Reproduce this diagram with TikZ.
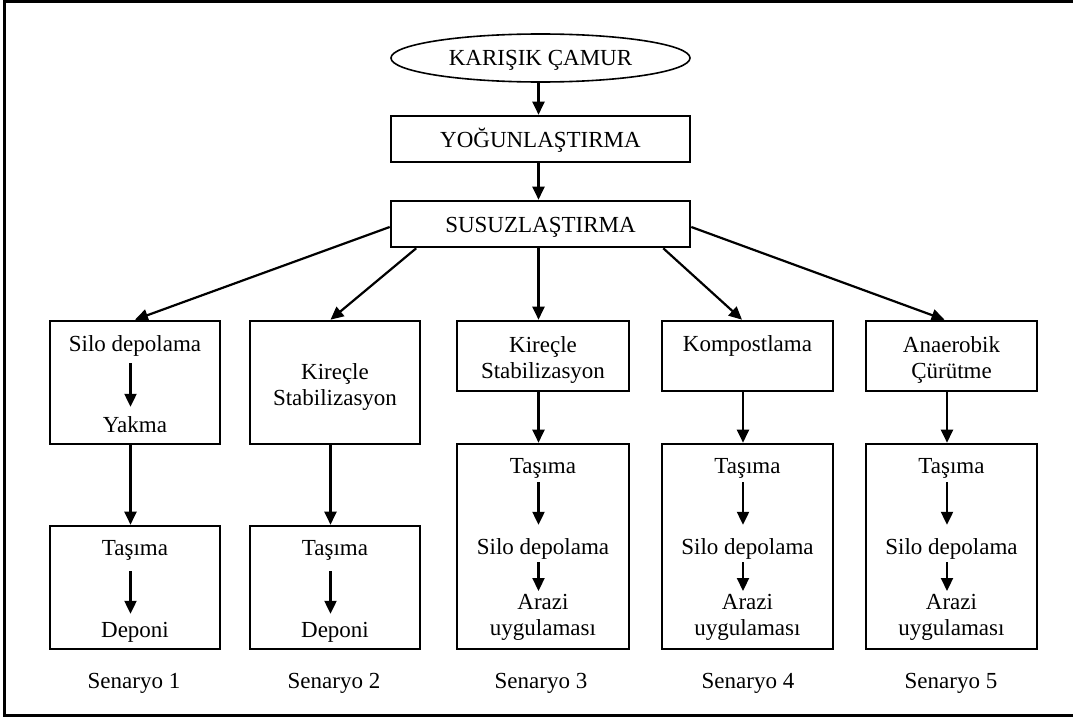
\documentclass[tikz,border=0pt]{standalone}
\usepackage{fontspec}
\setmainfont{Liberation Serif}
\usetikzlibrary{arrows.meta,shapes.geometric}

\begin{document}
\begin{tikzpicture}[x=1pt,y=-1pt,
  every node/.style={font=\fontsize{23}{26.5}\selectfont},
  box/.style={draw,line width=2.6pt,rectangle,minimum width=170pt,inner sep=0pt},
  wide/.style={box,minimum width=299pt,minimum height=46pt,text height=16pt,text depth=0pt},
  lbl/.style={inner sep=0pt,text height=16pt,text depth=5pt,anchor=base},
  lbltwo/.style={inner sep=0pt,align=center,anchor=north},
  arr/.style={line width=2.2pt,-{Triangle[length=13pt,width=12pt]}},
]
\useasboundingbox (0,0) rectangle (1073,717);
\begin{scope}
  \clip (0,0) rectangle (1073,717);
  \draw[line width=3pt] (4.5,1.5) rectangle (1090,715.5);
\end{scope}

% main chain
\node[draw,ellipse,line width=1.6pt,minimum width=299pt,minimum height=48pt,inner sep=0pt,
      text height=16pt,text depth=0pt]
  (mix) at (540.5,58) {KARIŞIK ÇAMUR};
\node[wide] (yog) at (540.5,139) {YOĞUNLAŞTIRMA};
\node[wide] (sus) at (540.5,224) {SUSUZLAŞTIRMA};
\draw[arr] ([xshift=-2pt]mix.south) -- ([xshift=-2pt]yog.north);
\draw[arr] ([xshift=-2pt]yog.south) -- ([xshift=-2pt]sus.north);

% first-stage boxes
\node[box,minimum height=123pt] (s1a) at (135,382.5) {};
\node[box,minimum height=123pt] (s2a) at (335,382.5) {};
\node[box,minimum width=172pt,minimum height=70pt] (s3a) at (543,356) {};
\node[box,minimum width=171pt,minimum height=70pt] (s4a) at (747.5,356) {};
\node[box,minimum width=171pt,minimum height=70pt] (s5a) at (951.5,356) {};

% second-stage boxes
\node[box,minimum height=123pt] (s1b) at (135,587.5) {};
\node[box,minimum height=123pt] (s2b) at (335,587.5) {};
\node[box,minimum width=172pt,minimum height=205pt] (s3b) at (543,546.5) {};
\node[box,minimum width=171pt,minimum height=205pt] (s4b) at (747.5,546.5) {};
\node[box,minimum width=171pt,minimum height=205pt] (s5b) at (951.5,546.5) {};

% branches out of dewatering
\draw[arr] ([yshift=-3pt]sus.west) -- (s1a.north);
\draw[arr] ([xshift=26.5pt]sus.south west) -- ([xshift=-4.5pt]s2a.north);
\draw[arr] ([xshift=-2pt]sus.south) -- ([xshift=-4.5pt]s3a.north);
\draw[arr] ([xshift=-28pt]sus.south east) -- ([xshift=-5.5pt]s4a.north);
\draw[arr] ([yshift=-3pt]sus.east) -- ([xshift=-7pt]s5a.north);

% links between stages
\foreach \s in {1,...,5}{
  \draw[arr] ([xshift=-4.5pt]s\s a.south) -- ([xshift=-4.5pt]s\s b.north);
}

% scenario 1
\node[lbl] (a1) at (135,351.5) {Silo depolama};
\node[lbl] (a2) at (135,432.5) {Yakma};
\draw[arr,shorten <=6.5pt,shorten >=9.5pt] ([xshift=-4.5pt]a1.south) -- ([xshift=-4.5pt]a2.north);
\node[lbl] (a3) at (135,555.5) {Taşıma};
\node[lbl] (a4) at (135,637.5) {Deponi};
\draw[arr,shorten <=10.5pt,shorten >=7.5pt] ([xshift=-4.5pt]a3.south) -- ([xshift=-4.5pt]a4.north);

% scenario 2
\node[lbltwo] (b1) at (335,363) {Kireçle\\Stabilizasyon};
\node[lbl] (b3) at (335,555.5) {Taşıma};
\node[lbl] (b4) at (335,637.5) {Deponi};
\draw[arr,shorten <=10.5pt,shorten >=7.5pt] ([xshift=-4.5pt]b3.south) -- ([xshift=-4.5pt]b4.north);

% scenarios 3 to 5
\node[lbltwo] (c1) at (543,336) {Kireçle\\Stabilizasyon};
\node[lbl] (d1) at (747.5,351.5) {Kompostlama};
\node[lbltwo] (e1) at (951.5,336) {Anaerobik\\Çürütme};

\foreach \n/\x in {c/543,d/747.5,e/951.5}{
  \node[lbl] (\n3) at (\x,473.5) {Taşıma};
  \node[lbl] (\n4) at (\x,554.5) {Silo depolama};
  \node[lbltwo] (\n5) at (\x,594) {Arazi\\uygulaması};
  \draw[arr,shorten <=3.5pt,shorten >=13.5pt] ([xshift=-4.5pt]\n3.south) -- ([xshift=-4.5pt]\n4.north);
  \draw[arr,shorten <=2.5pt,shorten >=3pt] ([xshift=-4.5pt]\n4.south) -- ([xshift=-4.5pt]\n5.north);
}

% scenario captions
\node[lbl] (l1) at (134,688.5) {Senaryo 1};
\node[lbl] (l2) at (334,688.5) {Senaryo 2};
\node[lbl] (l3) at (541,688.5) {Senaryo 3};
\node[lbl] (l4) at (748,688.5) {Senaryo 4};
\node[lbl] (l5) at (951,688.5) {Senaryo 5};
\end{tikzpicture}
\end{document}
